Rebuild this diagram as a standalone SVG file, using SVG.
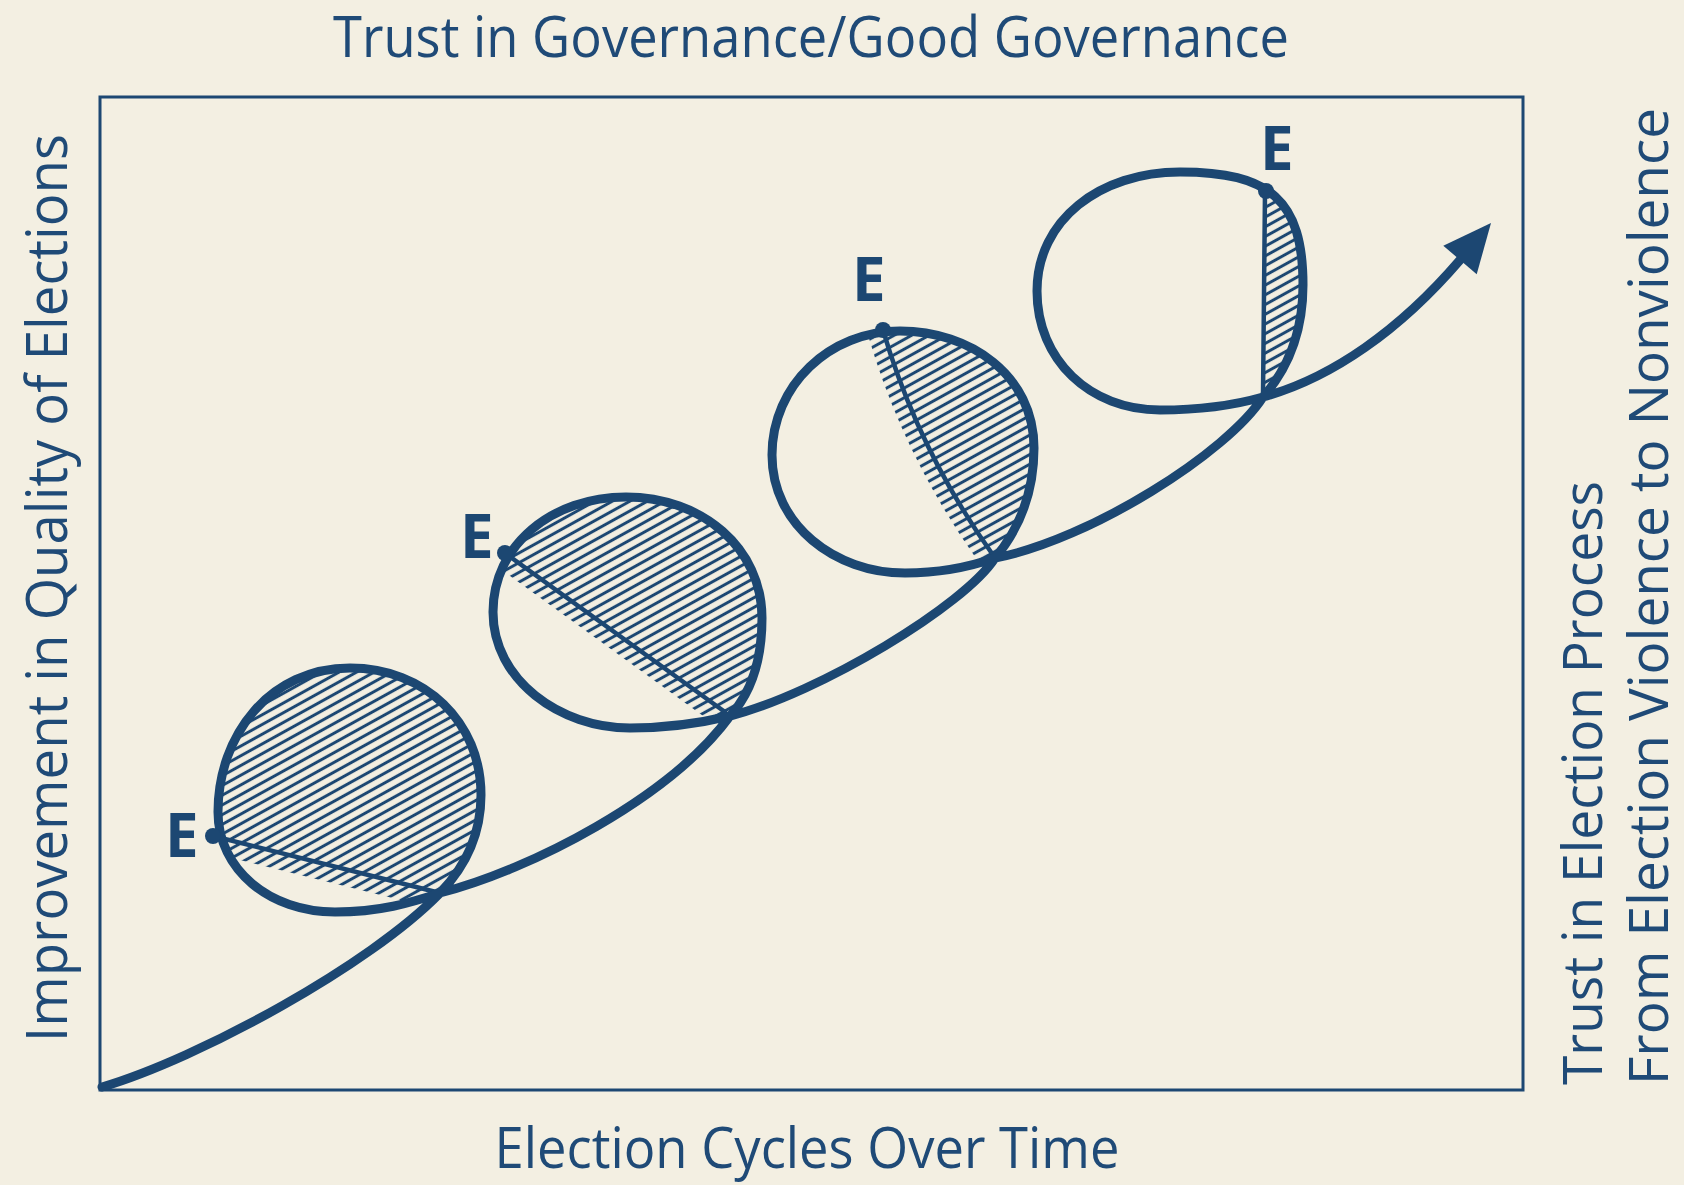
<svg xmlns="http://www.w3.org/2000/svg" width="1684" height="1185" viewBox="0 0 1684 1185">
  <style>
    .ink { fill: none; stroke: #1c4772; stroke-linecap: round; stroke-linejoin: round; }
    .curve { stroke-width: 9; }
    .chord { stroke-width: 4.5; }
    .frame { fill: none; stroke: #1c4772; stroke-width: 3; }
    .label { font-family: "Open Sans", "Liberation Sans", sans-serif; fill: #1f4a77; font-size: 56px; }
    .side { font-size: 54px; }
    .elabel { font-family: "Open Sans", "Liberation Sans", sans-serif; font-weight: 700; fill: #1c4772; font-size: 60px; }
    .dot { fill: #1c4772; }
  </style>
  <defs>
    <pattern id="hatch" patternUnits="userSpaceOnUse" width="24" height="8.5" patternTransform="rotate(-29)">
      <line x1="-2" y1="4.25" x2="26" y2="4.25" stroke="#1c4772" stroke-width="3"/>
    </pattern>

    <!-- interiors of the four loops -->
    <clipPath id="loop1-in">
      <path d="M 440,893 C 466,866 481,835 481,795 C 481,722 425,668 350,668 C 270,668 218,735 218,812 C 218,870 270,912 335,912 C 380,912 410,903 440,893 Z"/>
    </clipPath>
    <clipPath id="loop2-in">
      <path d="M 730,716 C 752,692 762,657 762,618 C 762,548 702,497 626,497 C 552,497 493,545 493,612 C 493,680 560,728 630,728 C 670,728 705,722 730,716 Z"/>
    </clipPath>
    <clipPath id="loop3-in">
      <path d="M 995,558 C 1020,528 1034,490 1034,448 C 1034,375 970,331 900,331 C 830,331 772,385 772,455 C 772,525 835,573 905,573 C 945,573 972,566 995,558 Z"/>
    </clipPath>
    <clipPath id="loop4-in">
      <path d="M 1263,397 C 1285,372 1303,335 1303,285 C 1303,200 1270,172 1180,172 C 1100,172 1037,220 1037,291 C 1037,360 1090,410 1160,410 C 1203,410 1235,405 1263,397 Z"/>
    </clipPath>

    <!-- shaded side of each chord, with a short fringe on the other side -->
    <clipPath id="seg1">
      <polygon points="214,424 631,528 533,916 529,932 112,828 116,812"/>
    </clipPath>
    <clipPath id="seg2">
      <polygon points="658,170 1040,447 806,771 797,784 415,507 424,494"/>
    </clipPath>
    <clipPath id="seg3">
      <path d="M 883,330 Q 918,450 993,555 L 1100,600 L 1150,250 L 850,250 Z"/>
      <path d="M 883,330 Q 918,450 993,555 L 978.6,562 Q 903.6,457 868.6,337 Z"/>
    </clipPath>
    <clipPath id="seg4">
      <polygon points="1265,140 1263,440 1350,440 1350,140"/>
    </clipPath>
  </defs>

  <!-- paper -->
  <rect x="0" y="0" width="1684" height="1185" fill="#f3efe2"/>

  <!-- plot frame -->
  <g id="frame">
    <rect class="frame" x="100" y="97" width="1423" height="993"/>
  </g>

  <!-- axis captions -->
  <g id="captions">
    <text class="label" x="811" y="57" text-anchor="middle" textLength="956" lengthAdjust="spacingAndGlyphs">Trust in Governance/Good Governance</text>
    <text class="label" x="807" y="1168" font-size="53" text-anchor="middle" textLength="625" lengthAdjust="spacingAndGlyphs">Election Cycles Over Time</text>
    <text class="label" transform="translate(67,588) rotate(-90)" x="0" y="0" text-anchor="middle" textLength="908" lengthAdjust="spacingAndGlyphs">Improvement in Quality of Elections</text>
    <text class="label side" transform="translate(1602,1085) rotate(-90)" x="0" y="0" textLength="604" lengthAdjust="spacingAndGlyphs">Trust in Election Process</text>
    <text class="label side" transform="translate(1668,1085) rotate(-90)" x="0" y="0" textLength="977" lengthAdjust="spacingAndGlyphs">From Election Violence to Nonviolence</text>
  </g>

  <!-- cycle 1 -->
  <g id="cycle-1">
    <g clip-path="url(#loop1-in)">
      <rect x="150" y="600" width="380" height="360" fill="url(#hatch)" clip-path="url(#seg1)"/>
    </g>
    <line class="ink chord" x1="213" y1="836" x2="436" y2="892"/>
    <text class="elabel" x="165" y="857">E</text>
  </g>

  <!-- cycle 2 -->
  <g id="cycle-2">
    <g clip-path="url(#loop2-in)">
      <rect x="450" y="450" width="360" height="320" fill="url(#hatch)" clip-path="url(#seg2)"/>
    </g>
    <line class="ink chord" x1="505" y1="553" x2="725" y2="712"/>
    <text class="elabel" x="460" y="558">E</text>
  </g>

  <!-- cycle 3 -->
  <g id="cycle-3">
    <g clip-path="url(#loop3-in)">
      <rect x="740" y="290" width="340" height="320" fill="url(#hatch)" clip-path="url(#seg3)"/>
    </g>
    <path class="ink chord" d="M 883,330 Q 918,450 993,555"/>
    <text class="elabel" x="852" y="301">E</text>
  </g>

  <!-- cycle 4 -->
  <g id="cycle-4">
    <g clip-path="url(#loop4-in)">
      <rect x="1000" y="140" width="340" height="300" fill="url(#hatch)" clip-path="url(#seg4)"/>
    </g>
    <line class="ink chord" x1="1265" y1="192" x2="1263" y2="396"/>
    <text class="elabel" x="1260" y="170">E</text>
  </g>

  <!-- the rising spiral of election cycles -->
  <g id="connectors">
    <path class="ink curve" d="M 102,1087
      C 200,1058 370,965 440,893
      C 466,866 481,835 481,795
      C 481,722 425,668 350,668
      C 270,668 218,735 218,812
      C 218,870 270,912 335,912
      C 380,912 410,903 440,893
      C 530,870 670,798 730,716
      C 752,692 762,657 762,618
      C 762,548 702,497 626,497
      C 552,497 493,545 493,612
      C 493,680 560,728 630,728
      C 670,728 705,722 730,716
      C 820,693 965,605 995,558
      C 1020,528 1034,490 1034,448
      C 1034,375 970,331 900,331
      C 830,331 772,385 772,455
      C 772,525 835,573 905,573
      C 945,573 972,566 995,558
      C 1090,540 1228,452 1263,397
      C 1285,372 1303,335 1303,285
      C 1303,200 1270,172 1180,172
      C 1100,172 1037,220 1037,291
      C 1037,360 1090,410 1160,410
      C 1203,410 1235,405 1263,397
      C 1332,378 1400,330 1460,260"/>
    <polygon class="dot" points="1491,223 1476.7,274.3 1443.3,245.7"/>
    <circle class="dot" cx="213" cy="836" r="8"/>
    <circle class="dot" cx="505" cy="553" r="8"/>
    <circle class="dot" cx="883" cy="330" r="8"/>
    <circle class="dot" cx="1266" cy="191" r="8"/>
  </g>
</svg>
